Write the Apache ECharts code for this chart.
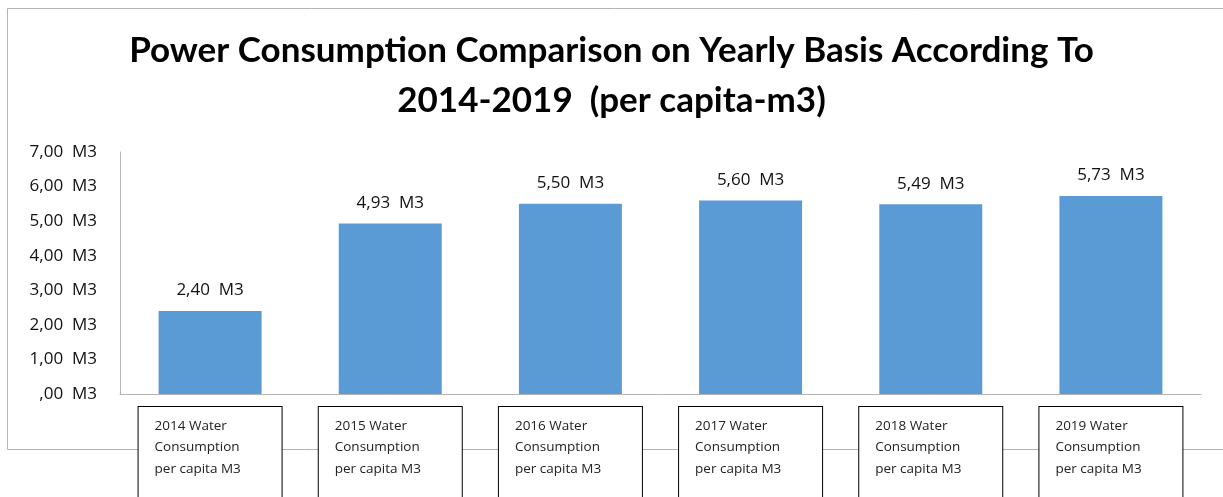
<!DOCTYPE html>
<html>
<head>
<meta charset="utf-8">
<script src="https://cdn.jsdelivr.net/npm/echarts@6/dist/echarts.min.js"></script>
<style>html,body{margin:0;padding:0;background:#fff}#c{width:1223px;height:497px}</style>
</head>
<body>
<div id="c"></div>
<script>
const titleText = 'Power Consumption Comparison on Yearly Basis According To\n2014-2019  (per capita-m3)';
const categories = [
  '2014 Water\nConsumption\nper capita M3',
  '2015 Water\nConsumption\nper capita M3',
  '2016 Water\nConsumption\nper capita M3',
  '2017 Water\nConsumption\nper capita M3',
  '2018 Water\nConsumption\nper capita M3',
  '2019 Water\nConsumption\nper capita M3'
];
const values = [2.40, 4.93, 5.50, 5.60, 5.49, 5.73];
const yTicks = [0, 1, 2, 3, 4, 5, 6, 7];

const TITLE_FONT = 'Lato, "Liberation Sans", sans-serif';
const FONT = '"Open Sans", "Liberation Sans", sans-serif';
function fmtNum(v) {
  let s = v.toFixed(2).replace('.', ',');
  if (s.startsWith('0,')) s = s.slice(1);
  return s;
}

const chart = echarts.init(document.getElementById('c'));
chart.setOption({
  backgroundColor: '#ffffff',
  animation: false,
  title: {
    text: titleText,
    left: 'center',
    top: 21,
    textStyle: { fontFamily: TITLE_FONT, fontSize: 35, fontWeight: 'bold', color: '#000', lineHeight: 50 }
  },
  graphic: [
    { type: 'polyline', z: -10, silent: true,
      shape: { points: [[1223, 8.5], [7.5, 8.5], [7.5, 449.5], [1223, 449.5]] },
      style: { stroke: '#b3b3b3', lineWidth: 1, fill: null } }
  ],
  grid: { left: 120, right: 22, top: 152, bottom: 103, containLabel: false, outerBoundsMode: 'none' },
  xAxis: {
    type: 'category',
    data: categories,
    axisLine: { lineStyle: { color: '#b3b3b3', width: 1 } },
    axisTick: { show: false },
    axisLabel: {
      interval: 0,
      margin: 13,
      formatter: function (v) {
        return v.split('\n').map(function (l) { return '{t|' + l + '}'; }).join('\n');
      },
      backgroundColor: '#fff',
      borderColor: '#000',
      borderWidth: 1,
      padding: [8, 15, 30, 16],
      rich: {
        t: { fontFamily: FONT, fontSize: 13.5, color: '#222', width: 112, align: 'left', lineHeight: 21.5 }
      }
    }
  },
  yAxis: {
    type: 'value',
    min: 0,
    max: 7,
    interval: 1,
    axisLine: { show: true, lineStyle: { color: '#b3b3b3', width: 1 } },
    axisTick: { show: false },
    splitLine: { show: false },
    axisLabel: {
      margin: 23,
      fontFamily: FONT,
      fontSize: 17,
      color: '#111',
      formatter: function (v) { return yTicks.indexOf(v) >= 0 ? fmtNum(v) + '  M3' : ''; }
    }
  },
  series: [{
    type: 'bar',
    data: values,
    barWidth: 103,
    itemStyle: { color: '#5B9BD5' },
    label: {
      show: true,
      position: 'top',
      distance: 12,
      fontFamily: FONT,
      fontSize: 17,
      color: '#111',
      formatter: function (p) { return fmtNum(p.value) + '  M3'; }
    }
  }]
});
</script>
</body>
</html>
